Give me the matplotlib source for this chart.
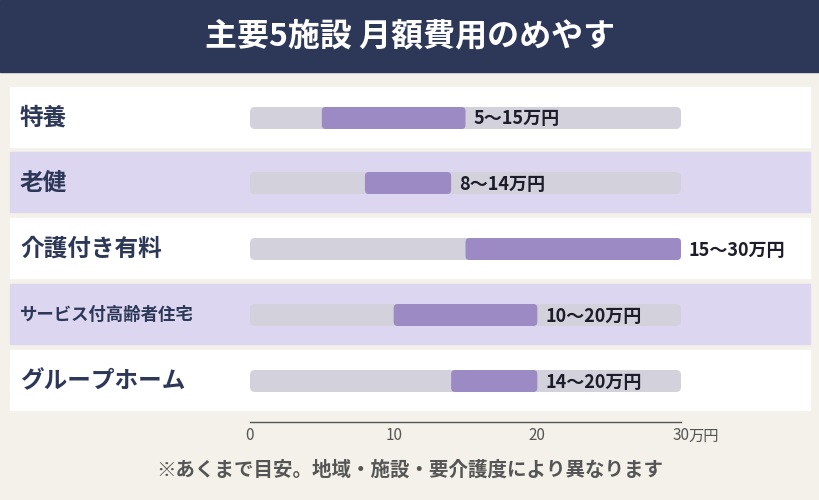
import matplotlib
matplotlib.use("Agg")
import matplotlib.pyplot as plt
from matplotlib.patches import FancyBboxPatch, Rectangle

plt.rcParams['font.family'] = ['Noto Sans CJK JP', 'DejaVu Sans']

facilities = ["特養", "老健", "介護付き有料", "サービス付高齢者住宅", "グループホーム"]
low = [5, 8, 15, 10, 14]
high = [15, 14, 30, 20, 20]
labels = ["5〜15万円", "8〜14万円", "15〜30万円", "10〜20万円", "14〜20万円"]
ticks = [0, 10, 20, 30]
tick_labels = ["0", "10", "20", "30"]
title = "主要5施設 月額費用のめやす"
note = "※あくまで目安。地域・施設・要介護度により異なります"
xmax = 30

W, H = 820, 500
px = (681 - 250) / xmax  # pixels per unit
fig = plt.figure(figsize=(W/100, H/100), dpi=100)
fig.patch.set_facecolor("#f4f1ea")
ax = fig.add_axes([0, 0, 1, 1])
ax.set_xlim(-250/px, (W-250)/px)
ax.set_ylim(H, 0)
ax.axis("off")
u = 1/px  # one pixel in data units

# header
ax.add_patch(Rectangle((-250*u, 0), W*u, 72, color="#2d3858", zorder=1))
ax.text((410-250)*u, 36, title, color="white", fontsize=23, fontweight="bold",
        ha="center", va="center")

row_tops = [87, 152, 218, 284, 350]
fills = ["#ffffff", "#dcd6f0", "#ffffff", "#dcd6f0", "#ffffff"]
for i, name in enumerate(facilities):
    top = row_tops[i]
    ax.add_patch(Rectangle(((10-250)*u, top), 800*u, 60, color=fills[i], zorder=1))
    cy = top + 31
    fs = 12.5 if len(name) > 8 else 17
    ax.text((20-250)*u, cy, name, fontsize=fs, fontweight="bold", color="#2d3858",
            ha="left", va="center")
    ax.add_patch(FancyBboxPatch((0, cy-11), xmax, 22, boxstyle=f"round,pad=0,rounding_size={5*u}",
                                mutation_aspect=px, color="#d3d2dc", lw=0, zorder=2))
    ax.add_patch(FancyBboxPatch((low[i], cy-11), high[i]-low[i], 22,
                                boxstyle=f"round,pad=0,rounding_size={4*u}",
                                mutation_aspect=px, color="#9b8ac4", lw=0, zorder=3))
    ax.text(high[i] + 8*u, cy + 1, labels[i], fontsize=13, fontweight="bold", color="#1c1c2a",
            ha="left", va="center", zorder=4)

# axis
ax.plot([0, xmax], [422, 422], color="#555555", lw=1)
for t, tl in zip(ticks, tick_labels):
    ax.text(t, 436, tl, fontsize=11, color="#555555", ha="center", va="center")
ax.text(xmax + 7*u, 436, "万円", fontsize=11, color="#555555", ha="left", va="center")

ax.text((410-250)*u, 470, note, fontsize=14, fontweight="bold", color="#555555",
        ha="center", va="center")

fig.savefig("out.png", dpi=100, facecolor=fig.get_facecolor())
